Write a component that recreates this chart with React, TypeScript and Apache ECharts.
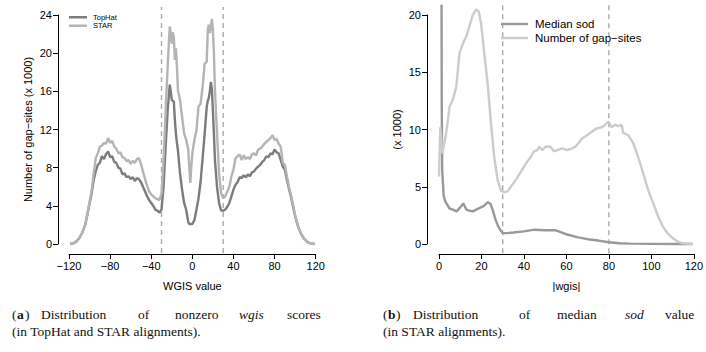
import React, { useEffect, useRef } from "react";
import * as echarts from "echarts";

// ---- Panel (a): distribution of nonzero wgis scores (x 1000) ----
const wgisX = [-119,-116,-113,-110,-107,-104,-101,-98,-96,-94,-92,-90,-88,-86,-84,-82,-80,-78,-76,-74,-72,-70,-68,-66,-64,-62,-60,-58,-56,-54,-52,-50,-48,-46,-44,-42,-40,-38,-36,-34,-32,-30,-28,-26,-24,-22,-21,-20,-19,-18,-17,-16,-15,-14,-12,-10,-8,-6,-4,-3,-2,-1,0,1,2,4,6,8,10,12,14,15,16,17,18,19,20,21,22,24,26,28,30,32,34,36,38,40,42,44,46,48,50,52,54,56,58,60,62,64,66,68,70,72,74,76,78,80,82,84,86,88,90,92,94,96,98,100,103,106,109,112,115,119];
const tophatK = [0,0.05,0.25,0.6,1.2,2.1,3.7,5.3,6.7,7.6,8.3,8.5,9.2,8.9,9.4,9.7,9.1,9.2,8.6,8.5,8.0,7.9,7.3,7.4,7.0,7.1,6.8,7.0,6.6,6.9,6.8,6.5,6.0,5.5,5.0,4.6,4.3,4.0,3.6,3.5,3.3,3.6,6.0,10.2,14.0,16.7,16.0,15.1,15.0,14.9,13.0,11.6,10.6,9.8,7.4,5.7,4.3,3.6,2.3,2.1,2.1,2.1,2.1,2.3,2.5,3.6,4.8,6.5,9.0,11.6,14.4,15.0,15.3,16.0,17.0,16.2,14.0,11.5,8.8,6.0,4.3,3.5,3.5,3.6,3.9,4.3,5.0,5.7,6.2,6.5,7.0,6.9,7.2,7.0,7.3,7.1,7.5,7.6,7.9,8.1,8.3,8.6,8.8,9.2,9.1,9.5,9.4,9.9,9.6,9.5,8.8,8.1,7.8,6.7,5.8,4.9,3.9,2.9,1.8,1.0,0.5,0.2,0.07,0];
const starK = [0,0.05,0.25,0.6,1.2,2.1,3.8,5.6,7.4,9.0,9.5,10.2,10.3,10.6,10.5,11.1,10.6,10.8,10.2,10.0,9.5,9.6,9.1,9.0,8.7,8.8,8.4,8.7,8.5,8.9,9.0,8.4,7.6,6.8,6.1,5.5,5.2,5.0,4.8,4.7,4.6,5.3,8.8,14.0,18.6,22.8,22.1,21.0,22.2,21.7,19.3,20.5,18.6,16.1,15.1,13.3,11.6,10.9,9.9,8.1,6.4,8.1,9.5,10.2,10.9,11.9,14.4,14.7,16.5,18.9,19.1,22.4,23.0,22.1,22.8,23.6,22.4,20.0,16.1,11.6,7.4,5.3,4.8,5.0,5.5,6.0,7.1,7.8,9.0,9.2,9.4,8.8,9.3,8.9,9.1,8.9,9.4,9.5,9.3,9.9,10.0,10.2,10.5,10.7,10.9,11.1,11.4,10.9,11.0,10.5,10.2,8.5,8.3,7.1,6.0,5.1,4.1,3.0,1.8,1.0,0.5,0.2,0.07,0];
const cutsA = [-30, 30];

// ---- Panel (b): median sod and number of gap-sites vs |wgis| (x 1000) ----
const sodX = [1.2,1.3,1.5,2.2,3,4,5,6.5,8.3,10,11.4,12.9,14.5,16,17.5,19.2,21,23,24.3,25.4,26.5,27.7,29,30,32,35,40,45,50,55,58,60,65,70,75,80,85,90,100,110,119.5];
const sodY = [20.9,12,6.5,4.2,3.7,3.4,3.1,3.0,2.85,3.2,3.55,3.0,2.9,2.85,3.0,3.15,3.3,3.65,3.5,2.9,2.2,1.6,1.2,0.95,0.95,1.0,1.1,1.25,1.2,1.2,1.0,0.85,0.6,0.42,0.3,0.15,0.06,0.03,0.01,0,0];
const gapX = [0,0.6,1.6,3.4,5,6.5,8.1,9.7,11.2,12.8,14.3,15.9,17.5,18.7,19.8,21.3,22.9,24.5,26,27.6,29.1,30.7,32.3,33.8,36.2,38.5,40.8,43.2,44.7,46.3,47.1,48.6,50.2,52.5,54.1,55.6,58,60.3,62.6,64.2,65.7,67.3,69.7,72,74.3,76.7,78.2,79.8,81.3,82.9,84.5,86,86.8,89.1,91.5,93.8,96.1,98.5,100.8,103.2,105.5,107.8,110.2,112.5,114.8,119.5];
const gapY = [5.9,10.2,7.9,9.7,12.0,12.6,13.7,16.7,17.5,18.1,19.0,20.0,20.5,20.3,19.3,16.7,14.0,10.5,7.6,5.6,4.7,4.5,4.6,5.0,5.6,6.3,7.0,7.6,8.1,8.2,8.5,8.2,8.5,8.5,8.1,8.2,8.35,8.2,8.35,8.5,8.8,9.2,9.5,9.8,10.1,10.2,10.4,10.7,10.2,10.4,10.3,10.4,9.7,9.5,8.8,7.6,6.2,4.7,3.6,2.4,1.5,0.9,0.5,0.2,0.06,0];
const cutsB = [30, 80];

const SANS = "'Liberation Sans', Arial, Helvetica, sans-serif";
const SERIF = "'Liberation Serif', 'DejaVu Serif', serif";

const zip = (xs: number[], ys: number[]) => xs.map((x, i) => [x, ys[i]]);
const minus = (v: number) => String(v).replace("-", "\u2212");

function axisBase() {
  return {
    type: "value",
    axisLine: { show: true, onZero: false, lineStyle: { color: "#000", width: 1 } },
    axisTick: { show: true, length: 5, lineStyle: { color: "#000", width: 1 } },
    axisLabel: { color: "#000", fontSize: 11, fontFamily: SANS, margin: 6, formatter: minus },
    splitLine: { show: false },
    nameLocation: "middle",
    nameTextStyle: { color: "#000", fontSize: 11, fontFamily: SANS },
  };
}

// dashed vertical cut-off lines drawn through the axes' own scales
function cutSeries(cuts: number[], axisIdx: number, lo: number, hi: number) {
  return {
    type: "custom",
    xAxisIndex: axisIdx,
    yAxisIndex: axisIdx,
    silent: true,
    clip: false,
    z: 1,
    data: cuts.map((c) => [c]),
    encode: { x: 0 },
    renderItem: (_p: any, api: any) => {
      const c = api.value(0);
      const a = api.coord([c, lo]);
      const b = api.coord([c, hi]);
      return {
        type: "line",
        shape: { x1: a[0], y1: a[1], x2: b[0], y2: b[1] },
        style: { stroke: "#ababab", lineWidth: 1.4, lineDash: [5, 4] },
      };
    },
  };
}

export default function App() {
  const ref = useRef<HTMLDivElement>(null);
  useEffect(() => {
    const chart = echarts.init(ref.current!, null, { renderer: "svg" });
    const word = (text: string, x: number, y: number, extra: any = {}) => ({
      type: "text",
      x,
      y,
      style: {
        text,
        fill: "#111",
        fontFamily: SERIF,
        fontSize: 13.5,
        verticalAlign: "middle",
        align: "left",
        ...extra,
      },
    });
    chart.setOption({
      animation: false,
      backgroundColor: "#fff",
      grid: [
        { left: 69, top: 15, width: 246.7, height: 229 },
        { left: 439, top: 15, width: 256.7, height: 229 },
      ],
      xAxis: [
        { ...axisBase(), gridIndex: 0, min: -120, max: 120, interval: 40, offset: 10, name: "WGIS value", nameGap: 26 },
        { ...axisBase(), gridIndex: 1, min: 0, max: 120, interval: 20, offset: 10, name: "|wgis|", nameGap: 26 },
      ],
      yAxis: [
        { ...axisBase(), gridIndex: 0, min: 0, max: 24, interval: 4, offset: 11, name: "Number of gap\u2212sites (x 1000)", nameGap: 25 },
        { ...axisBase(), gridIndex: 1, min: 0, max: 20, interval: 5, offset: 12, name: "(x 1000)", nameGap: 25 },
      ],
      legend: [
        {
          data: ["TopHat", "STAR"],
          orient: "vertical",
          left: 64,
          top: 8,
          itemWidth: 18,
          itemHeight: 2.5,
          itemGap: 0,
          icon: "rect",
          textStyle: { fontSize: 7.5, lineHeight: 8.5, fontFamily: SANS, color: "#000", padding: [0, 0, 0, 1] },
        },
        {
          data: ["Median sod", "Number of gap\u2212sites"],
          orient: "vertical",
          left: 496,
          top: 12,
          itemWidth: 27,
          itemHeight: 2.5,
          itemGap: 0,
          icon: "rect",
          textStyle: { fontSize: 11.5, lineHeight: 14, fontFamily: SANS, color: "#000", padding: [0, 0, 0, 2] },
        },
      ],
      series: [
        cutSeries(cutsA, 0, -0.95, 24.85),
        cutSeries(cutsB, 1, -0.8, 20.87),
        {
          name: "TopHat",
          type: "line",
          xAxisIndex: 0,
          yAxisIndex: 0,
          data: zip(wgisX, tophatK),
          showSymbol: false,
          clip: false,
          z: 2,
          lineStyle: { color: "#7c7c7c", width: 2.4 },
          itemStyle: { color: "#7c7c7c" },
        },
        {
          name: "STAR",
          type: "line",
          xAxisIndex: 0,
          yAxisIndex: 0,
          data: zip(wgisX, starK),
          showSymbol: false,
          clip: false,
          z: 2,
          lineStyle: { color: "#b4b4b4", width: 2.4 },
          itemStyle: { color: "#b4b4b4" },
        },
        {
          name: "Median sod",
          type: "line",
          xAxisIndex: 1,
          yAxisIndex: 1,
          data: zip(sodX, sodY),
          showSymbol: false,
          clip: false,
          z: 2,
          lineStyle: { color: "#999999", width: 2.4 },
          itemStyle: { color: "#999999" },
        },
        {
          name: "Number of gap\u2212sites",
          type: "line",
          xAxisIndex: 1,
          yAxisIndex: 1,
          data: zip(gapX, gapY),
          showSymbol: false,
          clip: false,
          z: 2,
          lineStyle: { color: "#cccccc", width: 2.4 },
          itemStyle: { color: "#cccccc" },
        },
      ],
      graphic: [
        word("(", 12, 314),
        word("a", 17, 314, { fontWeight: "bold" }),
        word(")", 25, 314),
        word("Distribution", 41, 314),
        word("of", 138, 314),
        word("nonzero", 175, 314),
        word("wgis", 239, 314, { fontStyle: "italic" }),
        word("scores", 287, 314),
        word("(in TopHat and STAR alignments).", 12, 331),
        word("(", 383, 314),
        word("b", 388, 314, { fontWeight: "bold" }),
        word(")", 396, 314),
        word("Distribution", 413, 314),
        word("of", 519, 314),
        word("median", 557, 314),
        word("sod", 625, 314, { fontStyle: "italic" }),
        word("value", 665, 314),
        word("(in STAR alignments).", 383, 331),
      ],
    });
    return () => chart.dispose();
  }, []);
  return <div ref={ref} style={{ position: "absolute", left: 0, top: 0, width: 706, height: 352 }} />;
}
